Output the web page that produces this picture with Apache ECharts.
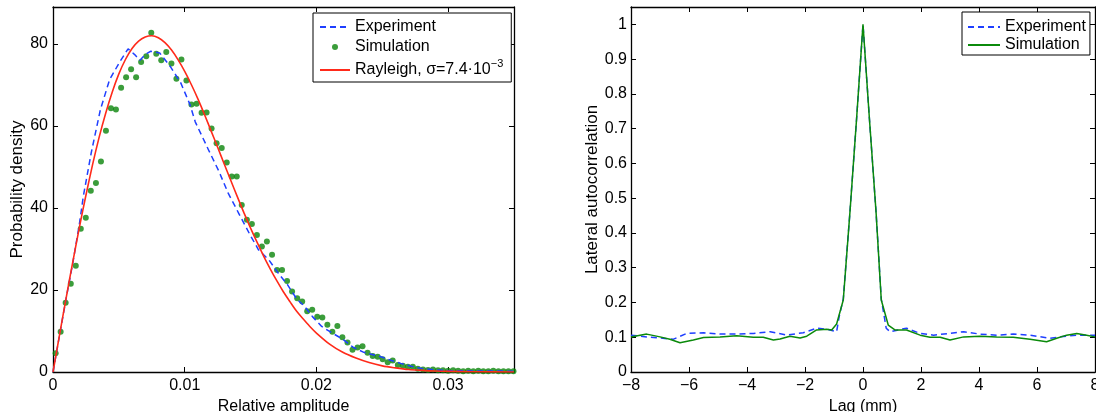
<!DOCTYPE html>
<html>
<head>
<meta charset="utf-8">
<script src="https://cdn.jsdelivr.net/npm/echarts@6/dist/echarts.min.js"></script>
<style>
html,body{margin:0;padding:0;background:#fff;}
#chart{width:1096px;height:412px;}
</style>
</head>
<body>
<div id="chart"></div>
<script>
// ---------- Left panel: probability density ----------
const ampTicks = [0, 0.01, 0.02, 0.03];
const densTicks = [0, 20, 40, 60, 80];

// Experiment (blue dashed) [relative amplitude, density]
const expAmp = [0,0.0005,0.001,0.0015,0.002,0.0023,0.0029,0.0036,0.0043,0.0051,0.0057,0.0062,0.0066,0.007,0.0074,0.0081,0.0089,0.0097,0.0104,0.0108,0.0118,0.0126,0.0133,0.0141,0.0149,0.0156,0.0164,0.0171,0.0178,0.0185,0.0191,0.0197,0.0204,0.0212,0.022,0.0228,0.0236,0.0249,0.0257,0.0264,0.0272,0.0279,0.029,0.03,0.032,0.035];
const expDens = [0,9.0,18.0,26.5,36.0,42.8,53.4,64.0,71.3,75.8,78.8,77.4,76.0,77.4,78.2,77.8,74.5,70.5,65.2,61.0,54.2,48.9,43.6,38.7,33.8,29.8,27.3,24.1,21.3,17.8,16.0,13.5,11.1,9.5,8.0,6.0,4.8,3.7,2.8,2.1,1.4,0.9,0.5,0.35,0.25,0.2];

// Simulation (green dots)
const simAmp = [0.0002,0.00058,0.00096,0.00135,0.00173,0.00211,0.00249,0.00287,0.00326,0.00364,
0.00402,0.0044,0.00478,0.00517,0.00555,0.00593,0.00631,0.00669,0.00708,0.00746,
0.00784,0.00822,0.0086,0.00899,0.00937,0.00975,0.01013,0.01051,0.0109,0.01128,
0.01166,0.01204,0.01242,0.01281,0.01319,0.01357,0.01395,0.01433,0.01472,0.0151,
0.01548,0.01586,0.01624,0.01663,0.01701,0.01739,0.01777,0.01815,0.01854,0.01892,
0.0193,0.01968,0.02006,0.02045,0.02083,0.02121,0.02159,0.02197,0.02236,0.02274,
0.02312,0.0235,0.02388,0.02427,0.02465,0.02503,0.02541,0.02579,0.02618,0.02656,
0.02694,0.02732,0.0277,0.02809,0.02847,0.02885,0.02923,0.02961,0.03,0.03038,
0.03076,0.03114,0.03152,0.03191,0.03229,0.03267,0.03305,0.03343,0.03382,0.0342,
0.03458,0.03496];
const simDens = [4.6,9.8,16.9,21.5,25.9,34.9,37.6,44.2,46.1,51.3,
58.8,64.3,64.0,69.3,71.9,73.8,71.9,75.6,77.0,82.7,
77.6,76.0,78.0,75.2,71.5,76.2,71.1,65.2,65.4,63.2,
63.3,59.4,55.8,54.6,51.1,47.7,47.7,40.7,37.1,36.1,
33.4,30.6,31.8,28.6,24.9,24.9,22.2,19.6,18.0,17.2,
14.8,15.2,13.5,13.3,11.5,9.8,11.2,8.5,7.2,5.4,
6.0,6.3,4.7,3.9,3.7,3.1,2.4,2.8,1.7,1.5,
1.3,1.3,0.8,0.6,0.5,0.6,0.4,0.4,0.3,0.4,
0.3,0.2,0.3,0.2,0.3,0.2,0.2,0.3,0.2,0.2,
0.2,0.2];

// Rayleigh fit (red solid)
const rayAmp = [0,0.0005,0.001,0.0015,0.002,0.0025,0.003,0.0035,0.004,0.0045,0.005,0.0055,0.006,0.0065,0.007,0.0075,0.008,0.0085,0.009,0.0095,0.01,0.0105,0.011,0.0115,0.012,0.0125,0.013,0.0135,0.014,0.0145,0.015,0.0155,0.016,0.0165,0.017,0.0175,0.018,0.0185,0.019,0.0195,0.02,0.021,0.022,0.023,0.024,0.025,0.026,0.027,0.028,0.029,0.03,0.032,0.035];
const rayDens = [0,9.1,18.1,26.8,35.2,43.1,50.5,57.2,63.1,68.3,72.7,76.2,78.9,80.7,81.7,82.0,81.5,80.3,78.5,76.1,73.3,70.1,66.6,62.8,58.8,54.8,50.7,46.7,42.7,38.8,35.1,31.6,28.2,25.1,22.2,19.5,17.1,14.8,12.9,11.1,9.5,6.8,4.8,3.4,2.3,1.5,1.0,0.6,0.4,0.24,0.15,0.05,0.01];

// ---------- Right panel: lateral autocorrelation ----------
const lagTicks = [-8, -6, -4, -2, 0, 2, 4, 6, 8];
const corrTicks = [0, 0.1, 0.2, 0.3, 0.4, 0.5, 0.6, 0.7, 0.8, 0.9, 1];

const expLag = [-8,-7.46,-6.9,-6.55,-6.08,-5.5,-4.93,-4.36,-3.78,-3.2,-2.63,-2.06,-1.6,-1.25,-0.91,-0.82,-0.68,-0.45,-0.22,0,0.22,0.45,0.63,0.8,0.93,1.5,1.97,2.43,3.0,3.47,4.03,4.61,5.18,5.76,6.45,6.79,7.37,8];
const expCorr = [0.106,0.101,0.097,0.094,0.111,0.113,0.109,0.109,0.111,0.116,0.106,0.113,0.126,0.123,0.116,0.16,0.21,0.46,0.73,1.0,0.73,0.46,0.21,0.126,0.116,0.126,0.111,0.106,0.111,0.116,0.109,0.106,0.109,0.106,0.097,0.101,0.106,0.106];

const simLag = [-8,-7.46,-7.0,-6.66,-6.31,-5.85,-5.5,-4.93,-4.36,-3.78,-3.44,-3.09,-2.86,-2.52,-2.17,-1.94,-1.6,-1.25,-1.08,-0.91,-0.68,-0.45,-0.22,0,0.22,0.45,0.63,0.87,1.1,1.5,1.97,2.31,2.66,3.0,3.47,4.03,4.61,5.18,5.76,6.33,6.68,7.02,7.37,7.71,8];
const simCorr = [0.101,0.109,0.101,0.094,0.084,0.092,0.099,0.101,0.104,0.100,0.100,0.092,0.095,0.103,0.098,0.103,0.121,0.123,0.121,0.138,0.207,0.46,0.73,1.0,0.73,0.46,0.207,0.135,0.121,0.121,0.106,0.1,0.1,0.092,0.101,0.103,0.101,0.100,0.094,0.087,0.097,0.106,0.111,0.106,0.101];

const zip = (a, b) => a.map((v, i) => [v, b[i]]);
const FONT = '"Liberation Sans", Arial, Helvetica, sans-serif';
const FS = 16;

function mainX(min, max, interval, name, gridIndex, fmt, showMax) {
  return {
    type: 'value', gridIndex, min, max, interval, position: 'bottom',
    name, nameLocation: 'middle', nameGap: 19,
    nameTextStyle: { fontFamily: FONT, fontSize: FS, color: '#000' },
    axisLine: { onZero: false, lineStyle: { color: '#000', width: 1.3 } },
    axisTick: { inside: true, length: 5, lineStyle: { color: '#000' } },
    axisLabel: { margin: 6, showMaxLabel: showMax, fontFamily: FONT, fontSize: FS, color: '#000', formatter: fmt },
    splitLine: { show: false }
  };
}
function mirrorX(min, max, interval, gridIndex) {
  return {
    type: 'value', gridIndex, min, max, interval, position: 'top',
    axisLine: { onZero: false, lineStyle: { color: '#000', width: 1.3 } },
    axisTick: { inside: true, length: 5, lineStyle: { color: '#000' } },
    axisLabel: { show: false }, splitLine: { show: false }
  };
}
function mainY(min, max, interval, name, gridIndex, gap, margin) {
  return {
    type: 'value', gridIndex, min, max, interval, position: 'left',
    name, nameLocation: 'middle', nameGap: gap,
    nameTextStyle: { fontFamily: FONT, fontSize: 17, color: '#000' },
    axisLine: { onZero: false, show: true, lineStyle: { color: '#000', width: 1.3 } },
    axisTick: { show: true, inside: true, length: 5, lineStyle: { color: '#000' } },
    axisLabel: { margin, showMaxLabel: false, fontFamily: FONT, fontSize: FS, color: '#000' },
    splitLine: { show: false }
  };
}
function mirrorY(min, max, interval, gridIndex) {
  return {
    type: 'value', gridIndex, min, max, interval, position: 'right',
    axisLine: { onZero: false, show: true, lineStyle: { color: '#000', width: 1.3 } },
    axisTick: { show: true, inside: true, length: 5, lineStyle: { color: '#000' } },
    axisLabel: { show: false }, splitLine: { show: false }
  };
}

const minusFmt = v => (v < 0 ? '\u2212' + Math.abs(v) : String(v));

const legendText = { fontFamily: FONT, fontSize: FS, color: '#000' };
const noSym = { opacity: 0 };

const option = {
  animation: false,
  backgroundColor: '#fff',
  grid: [
    { left: 53, top: 7, width: 461, height: 365, containLabel: false, outerBoundsMode: 'none' },
    { left: 631, top: 7, width: 464, height: 365, containLabel: false, outerBoundsMode: 'none' }
  ],
  xAxis: [
    mainX(0, 0.035, 0.01, 'Relative amplitude', 0, undefined, false),
    mirrorX(0, 0.035, 0.01, 0),
    mainX(-8, 8, 2, 'Lag (mm)', 1, minusFmt, true),
    mirrorX(-8, 8, 2, 1)
  ],
  yAxis: [
    mainY(0, 89, 20, 'Probability density', 0, 25, 5),
    mirrorY(0, 89, 20, 0),
    mainY(0, 1.05, 0.1, 'Lateral autocorrelation', 1, 29, 4),
    mirrorY(0, 1.05, 0.1, 1)
  ],
  legend: [
    {
      orient: 'vertical', left: 313, top: 13,
      padding: [5, 8, 0, 6], itemGap: 2, itemWidth: 30, itemHeight: 6,
      borderColor: '#000', borderWidth: 1, backgroundColor: '#fff',
      textStyle: Object.assign({}, legendText, {
        lineHeight: 18,
        rich: {
          n: { fontFamily: FONT, fontSize: FS, color: '#000', lineHeight: 24 },
          s: { fontFamily: FONT, fontSize: 11, color: '#000', verticalAlign: 'top', lineHeight: 8 }
        }
      }),
      selectedMode: false,
      data: [
        { name: 'Experiment', itemStyle: noSym },
        { name: 'Simulation' },
        { name: 'Rayleigh', itemStyle: noSym }
      ],
      formatter: name => name === 'Rayleigh' ? '{n|Rayleigh, \u03c3=7.4\u00b710}{s|\u22123}' : name
    },
    {
      orient: 'vertical', left: 962, top: 12,
      padding: [6, 4, 1, 5], itemGap: 0, itemWidth: 32, itemHeight: 6,
      borderColor: '#000', borderWidth: 1, backgroundColor: '#fff',
      textStyle: Object.assign({}, legendText, { lineHeight: 18 }),
      selectedMode: false,
      data: [
        { name: 'Experiment ', itemStyle: noSym },
        { name: 'Simulation ', itemStyle: noSym }
      ],
      formatter: name => name.trim()
    }
  ],
  series: [
    {
      name: 'Experiment', type: 'line', xAxisIndex: 0, yAxisIndex: 0,
      data: zip(expAmp, expDens), symbol: 'none', smooth: false,
      lineStyle: { color: '#1f3fff', width: 1.5, type: [6, 4] }, itemStyle: { color: '#1f3fff' }
    },
    {
      name: 'Simulation', type: 'scatter', xAxisIndex: 0, yAxisIndex: 0,
      data: zip(simAmp, simDens), symbol: 'circle', symbolSize: 6,
      itemStyle: { color: '#0a850a' }
    },
    {
      name: 'Rayleigh', type: 'line', xAxisIndex: 0, yAxisIndex: 0,
      data: zip(rayAmp, rayDens), symbol: 'none', smooth: 0.3,
      lineStyle: { color: '#ff2a1a', width: 1.6 }, itemStyle: { color: '#ff2a1a' }
    },
    {
      name: 'Experiment ', type: 'line', xAxisIndex: 2, yAxisIndex: 2,
      data: zip(expLag, expCorr), symbol: 'none',
      lineStyle: { color: '#1f3fff', width: 1.5, type: [6, 4] }, itemStyle: { color: '#1f3fff' }
    },
    {
      name: 'Simulation ', type: 'line', xAxisIndex: 2, yAxisIndex: 2,
      data: zip(simLag, simCorr), symbol: 'none',
      lineStyle: { color: '#0b8a0b', width: 1.5 }, itemStyle: { color: '#0b8a0b' }
    }
  ]
};

const chart = echarts.init(document.getElementById('chart'), null, { renderer: 'canvas' });
chart.setOption(option);
</script>
</body>
</html>
